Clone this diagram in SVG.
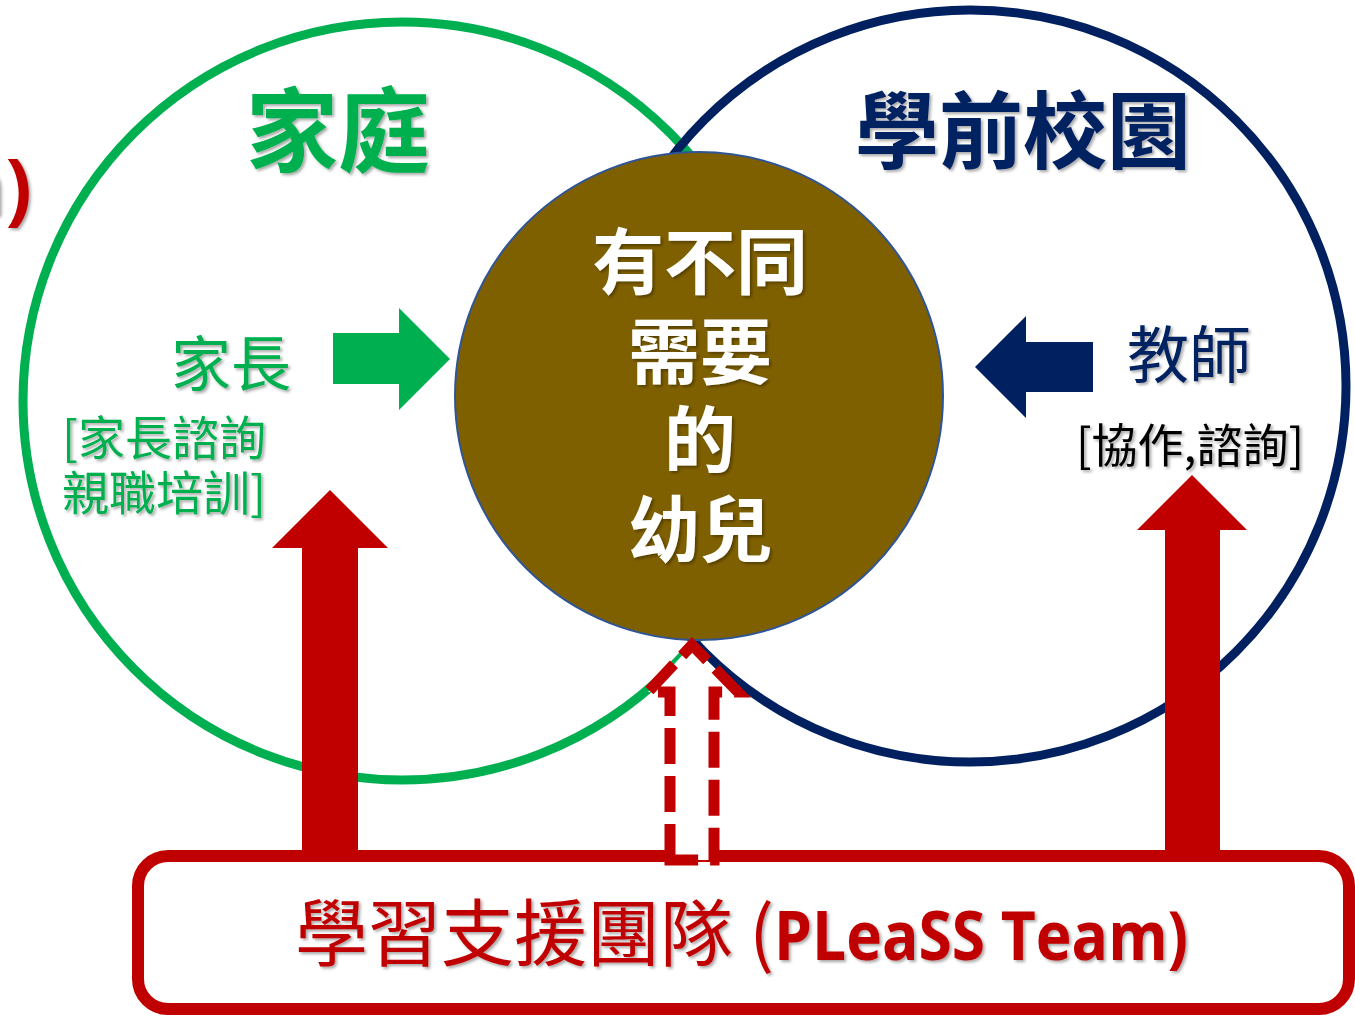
<svg xmlns="http://www.w3.org/2000/svg" width="1355" height="1016" viewBox="0 0 1355 1016">
<defs>
<filter id="sh" x="-10%" y="-10%" width="130%" height="130%">
<feDropShadow dx="2" dy="2" stdDeviation="1.5" flood-color="#000" flood-opacity="0.35"/>
</filter>
</defs>
<style>
.cjk{font-family:"Noto Sans CJK TC","Noto Sans CJK SC",sans-serif;}
.lat{font-family:"Open Sans","Noto Sans",sans-serif;}
</style>
<rect width="1355" height="1016" fill="#fff"/>
<g id="partial-text">
<text x="32" y="215" class="lat" font-size="78" font-weight="bold" fill="#C00000" text-anchor="end" filter="url(#sh)">n)</text>
</g>
<g id="home-circle">
<circle cx="402" cy="401" r="379" fill="none" stroke="#00B050" stroke-width="9"/>
</g>
<g id="school-circle">
<circle cx="970" cy="386" r="376" fill="none" stroke="#002060" stroke-width="9"/>
</g>
<g id="child">
<circle cx="699" cy="396" r="244" fill="#7F6000" stroke="#2F5597" stroke-width="2"/>
<g class="cjk" font-size="72" font-weight="bold" fill="#fff" text-anchor="middle" filter="url(#sh)">
<text x="700" y="288">有不同</text>
<text x="700" y="378">需要</text>
<text x="700" y="466">的</text>
<text x="700" y="556">幼兒</text>
</g>
</g>
<g id="home-label">
<text x="338" y="165" class="cjk" font-size="92" font-weight="bold" fill="#00B050" text-anchor="middle" filter="url(#sh)">家庭</text>
</g>
<g id="school-label">
<text x="1023" y="162" class="cjk" font-size="84" font-weight="bold" fill="#002060" text-anchor="middle" filter="url(#sh)">學前校園</text>
</g>
<g id="parent">
<text x="231" y="386" class="cjk" font-size="60" fill="#00B050" text-anchor="middle" filter="url(#sh)">家長</text>
<text x="62" y="455" class="cjk" font-size="47" fill="#00B050" filter="url(#sh)">[家長諮詢</text>
<text x="62" y="510" class="cjk" font-size="47" fill="#00B050" filter="url(#sh)">親職培訓]</text>
</g>
<g id="teacher">
<text x="1189" y="378" class="cjk" font-size="62" fill="#002060" text-anchor="middle" filter="url(#sh)">教師</text>
<text x="1190" y="462" class="cjk" font-size="46" fill="#000" text-anchor="middle" filter="url(#sh)">[協作,諮詢]</text>
</g>
<g id="team">
<rect x="138" y="856" width="1211" height="153" rx="30" fill="#fff" stroke="#C00000" stroke-width="12"/>
<text x="295" y="960" fill="#C00000" filter="url(#sh)"><tspan class="cjk" font-size="73">學習支援團隊 (</tspan><tspan class="lat" font-size="68" font-weight="bold" textLength="414" lengthAdjust="spacingAndGlyphs">PLeaSS Team)</tspan></text>
</g>
<g id="connectors">
<polygon points="333,333 399,333 399,308 450,359 399,410 399,384 333,384" fill="#00B050"/>
<polygon points="1093,342 1026,342 1026,316 975,367 1026,418 1026,392 1093,392" fill="#002060"/>
<polygon points="302,852 302,548 272,548 330,490 388,548 358,548 358,852" fill="#C00000"/>
<polygon points="1165,852 1165,530 1137,530 1192,475 1247,530 1220,530 1220,852" fill="#C00000"/>
<polygon points="670,860 670,692 648,692 692,645 738,692 714,692 714,860" fill="#fff" stroke="#C00000" stroke-width="11" stroke-dasharray="36 12"/>
</g>
</svg>
